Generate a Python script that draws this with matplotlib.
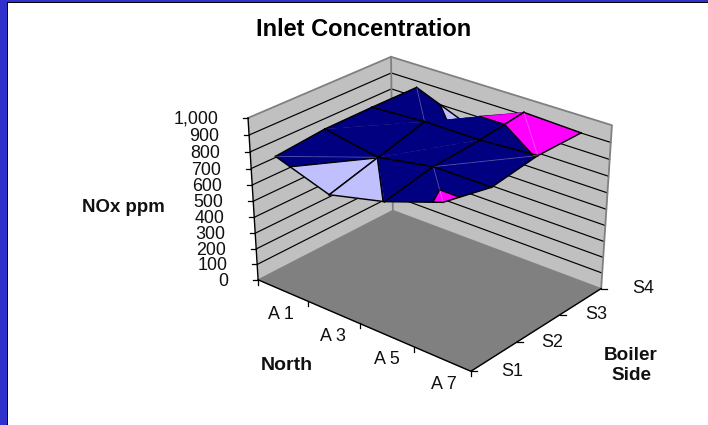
import numpy as np
import matplotlib
matplotlib.use("Agg")
import matplotlib.pyplot as plt
from matplotlib.patches import Rectangle, Polygon

plt.rcParams['font.family'] = ['Liberation Sans', 'DejaVu Sans']

# ---------- data ----------
title = "Inlet Concentration"
rows = ["S1", "S2", "S3", "S4"]
cols = ["A 1", "A 3", "A 5", "A 7"]
s1 = [830, 721, 802, 920]
s2 = [859, 801, 861, 860]
s3 = [862, 881, 881, 902]
s4 = [860, 729, 915, 901]
value_ticks = [0, 100, 200, 300, 400, 500, 600, 700, 800, 900, 1000]
band_edges = [700, 800, 900, 1000]
band_colors = ['#C0C0FF', '#000080', '#FF00FF']
# triangulation of each mesh cell: m joins (i,j)-(i+1,j+1), a joins (i+1,j)-(i,j+1)
diagonals = [['m', 'a', 'a'], ['m', 'm', 'm'], ['a', 'm', 'a']]
faint_cells = [(0, 0), (2, 0), (2, 1), (0, 2), (2, 2)]

Z = np.array([s1, s2, s3, s4], float)

# ---------- view: perspective map fitted to the plot-box corners ----------
box3 = [(0,0,0),(1,0,0),(1,1,0),(0,1,0),(0,0,1),(0,1,1),(1,1,1)]
box2 = [(258,280),(471,371),(601,289),(393,210),(248,118),(391,57),(612,125)]
A, b = [], []
for (u,v,w),(x,y) in zip(box3, box2):
    A.append([u,v,w,1,0,0,0,0,-x*u,-x*v,-x*w]); b.append(x)
    A.append([0,0,0,0,u,v,w,1,-y*u,-y*v,-y*w]); b.append(y)
P = np.append(np.linalg.lstsq(np.array(A,float), np.array(b,float), rcond=None)[0], 1).reshape(3,4)

def proj(u, v, value):
    q = P @ [u, v, value/1000, 1]
    return q[0]/q[2], q[1]/q[2]

U = (np.arange(len(cols)) + 0.5) / len(cols)
V = np.arange(len(rows)) / (len(rows) - 1)

fig = plt.figure(figsize=(7.08, 4.25), dpi=100, facecolor='white')
ax = fig.add_axes([0, 0, 1, 1])
ax.set_xlim(0, 708); ax.set_ylim(425, 0); ax.axis('off')

# frame
ax.add_patch(Rectangle((0,0), 6.7, 425, fc='#3030CC', ec='none', zorder=1))
ax.add_patch(Rectangle((0,0), 708, 1.7, fc='#3030CC', ec='none', zorder=1))
ax.add_patch(Rectangle((6.7,1.7), 1.1, 424, fc='black', ec='none', zorder=1))
ax.add_patch(Rectangle((6.7,1.7), 702, 1.1, fc='black', ec='none', zorder=1))

# walls and floor
GREY = '#808080'
wall = '#C0C0C0'
ax.add_patch(Polygon([proj(0,0,0),proj(0,1,0),proj(0,1,1000),proj(0,0,1000)], fc=wall, ec='none', zorder=2))
ax.add_patch(Polygon([proj(0,1,0),proj(1,1,0),proj(1,1,1000),proj(0,1,1000)], fc=wall, ec='none', zorder=2))
ax.add_patch(Polygon([proj(0,0,0),proj(1,0,0),proj(1,1,0),proj(0,1,0)], fc=GREY, ec=GREY, lw=0.8, zorder=2))
for t in value_ticks[1:-1]:
    pts = [proj(0,0,t), proj(0,1,t), proj(1,1,t)]
    ax.plot(*zip(*pts), color='black', lw=0.85, zorder=3, solid_joinstyle='miter')
pts = [proj(0,0,1000), proj(0,1,1000), proj(1,1,1000), proj(1,1,0)]
ax.plot(*zip(*pts), color=GREY, lw=1.3, zorder=3)
ax.plot(*zip(proj(0,1,0), proj(0,1,1000)), color=GREY, lw=1.3, zorder=3)

# axes lines and ticks
ax.plot(*zip(proj(0,0,0), proj(0,0,1000)), color='black', lw=1, zorder=4)
ax.plot(*zip(proj(0,0,0), proj(1,0,0), proj(1,1,0)), color='black', lw=1, zorder=4)
for t in value_ticks:
    x, y = proj(0,0,t)
    ax.plot([x-5, x], [y, y], color='black', lw=0.9, zorder=4)
    lab = f"{t:,}"
    ax.text(x-30, y+1.5, lab, ha='right', va='center', fontsize=12.9, color='#111111', zorder=6)
for k in range(len(cols)+1):
    x, y = proj(k/len(cols), 0, 0)
    ax.plot([x, x], [y, y+5], color='black', lw=0.9, zorder=4)
for k, name in enumerate(cols):
    x, y = proj((k+1)/len(cols), 0, 0)
    ax.text(x-27, y+13, name, ha='center', va='center', fontsize=12.9, color='#111111', zorder=6)
s_offsets = [41, 35, 36, 42]
for k, name in enumerate(rows):
    x, y = proj(1, V[k], 0)
    ax.plot([x, x+6], [y, y], color='black', lw=0.9, zorder=4)
    ax.text(x+s_offsets[k], y, name, ha='center', va='center', fontsize=12.9, color='#111111', zorder=6)

# surface
def clip(poly, lo, hi):
    def cut(pts, keep, level):
        out = []
        for a, c in zip(pts, pts[1:]+pts[:1]):
            ka, kc = keep(a[2]), keep(c[2])
            if ka: out.append(a)
            if ka != kc:
                t = (level-a[2])/(c[2]-a[2])
                out.append(tuple(a[n]+t*(c[n]-a[n]) for n in range(3)))
        return out
    poly = cut(poly, lambda z: z >= lo, lo)
    return cut(poly, lambda z: z <= hi, hi) if poly else poly

def vert(i, j):
    return (U[i], V[j], Z[j, i])

tris = []
for j in range(3):
    for i in range(3):
        if diagonals[j][i] == 'm':
            d = ((i,j),(i+1,j+1))
            pair = [[(i,j),(i+1,j),(i+1,j+1)], [(i,j),(i+1,j+1),(i,j+1)]]
        else:
            d = ((i+1,j),(i,j+1))
            pair = [[(i,j),(i+1,j),(i,j+1)], [(i+1,j),(i+1,j+1),(i,j+1)]]
        for t in pair:
            tris.append((t, d, (i,j)))
tris.sort(key=lambda r: (-sum(p[1] for p in r[0]), sum(p[0] for p in r[0])))

z = 10
for t, d, cell in tris:
    tv = [vert(*p) for p in t]
    for lo, hi, c in zip(band_edges[:-1], band_edges[1:], band_colors):
        poly = clip(tv, lo, hi)
        if len(poly) >= 3:
            ax.add_patch(Polygon([proj(*p) for p in poly], fc=c, ec=c, lw=0.2, zorder=z))
    z += 1
    # contour lines between bands
    for level in band_edges[1:-1]:
        seg = []
        for a, c in zip(tv, tv[1:]+tv[:1]):
            if (a[2]-level)*(c[2]-level) < 0:
                s = (level-a[2])/(c[2]-a[2])
                seg.append(proj(*(a[n]+s*(c[n]-a[n]) for n in range(3))))
        if len(seg) == 2:
            ax.plot(*zip(*seg), color='black', lw=1, zorder=z)
    # mesh lines
    for a, c in zip(t, t[1:]+t[:1]):
        if {a, c} == set(d):
            if cell in faint_cells:
                ax.plot(*zip(proj(*vert(*a)), proj(*vert(*c))), color='white', alpha=0.18, lw=0.7, zorder=z)
        else:
            ax.plot(*zip(proj(*vert(*a)), proj(*vert(*c))), color='black', lw=1.05, zorder=z)
    z += 1

# titles
ax.text(363.5, 29.5, title, ha='center', va='center', fontsize=17, fontweight='bold', color='black', zorder=100)
ax.text(123.5, 207, "NOx ppm", ha='center', va='center', fontsize=13.4, fontweight='bold', color='#111111', zorder=100)
ax.text(286.5, 366, "North", ha='center', va='center', fontsize=14, fontweight='bold', color='#111111', zorder=100)
ax.text(631, 355, "Boiler", ha='center', va='center', fontsize=13.6, fontweight='bold', color='#111111', zorder=100)
ax.text(631, 376, "Side", ha='center', va='center', fontsize=13.6, fontweight='bold', color='#111111', zorder=100)

fig.savefig("out.png", dpi=100, facecolor='white')
